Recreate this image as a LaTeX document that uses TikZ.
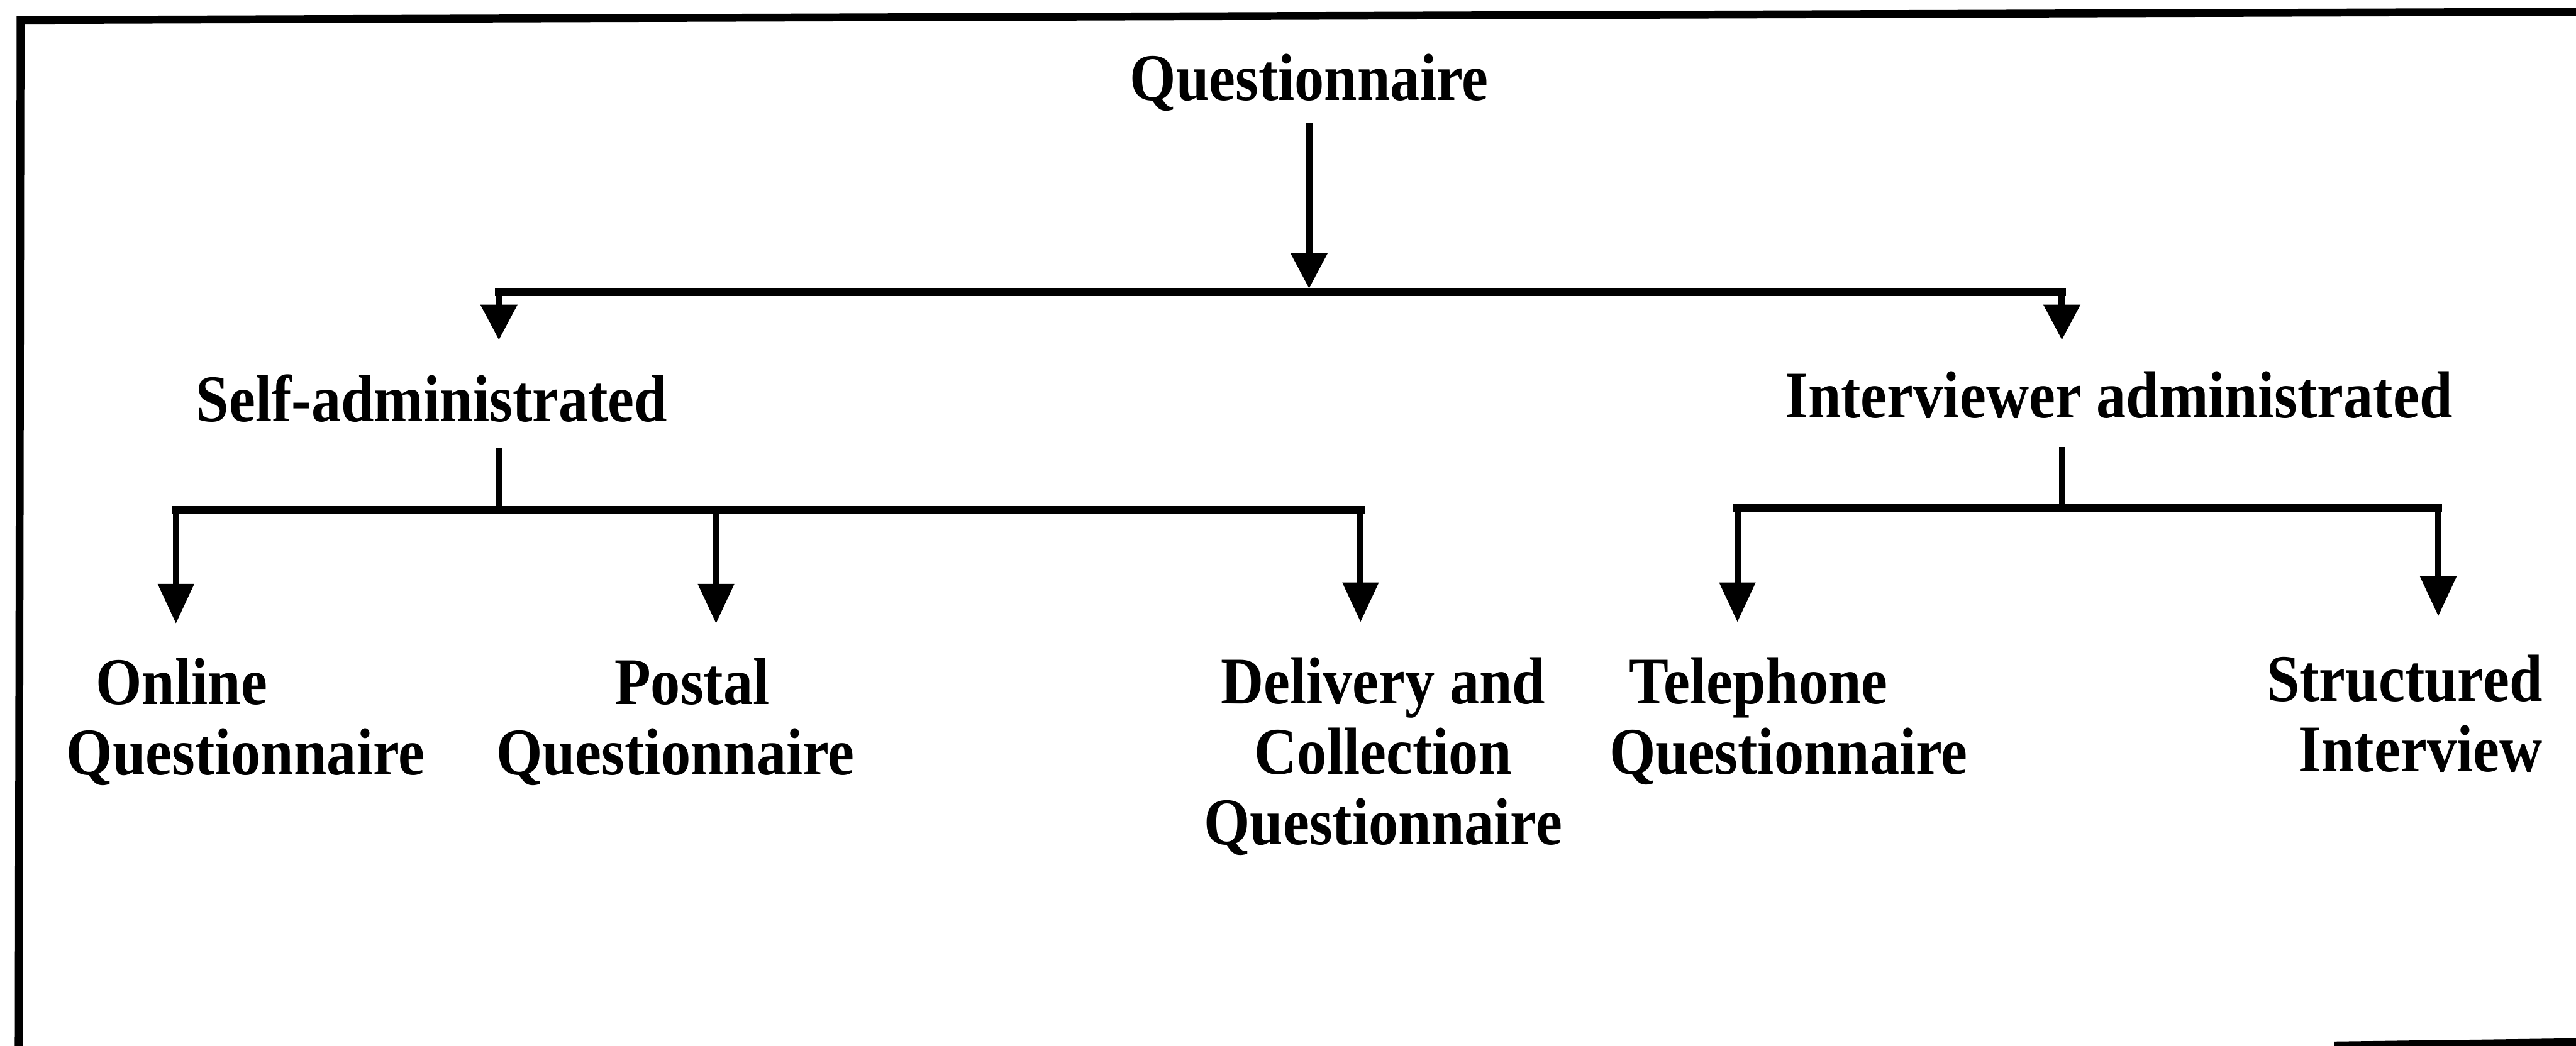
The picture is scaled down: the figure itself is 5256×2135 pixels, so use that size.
\documentclass[tikz,border=0pt]{standalone}
\usepackage{fontspec}
\setmainfont{Liberation Serif}[FakeStretch=0.89]
\usetikzlibrary{arrows.meta}
\setlength{\tabcolsep}{0pt}
\tikzset{
  lbl/.style={font=\bfseries\fontsize{38.7pt}{40.9pt}\selectfont, inner sep=0pt},
  bar/.style={line width=1.6mm, line cap=rect},
  stub/.style={line width=1.3mm},
  arr/.style={line width=1.3mm, -{Triangle[width=7.2mm,length=7.2mm]}},
  arrlong/.style={line width=1.3mm, -{Triangle[width=7.1mm,length=8.1mm]}},
  frame/.style={line width=1.6mm}
}
\begin{document}
\begin{tikzpicture}[x=0.1mm, y=-0.1mm]
\useasboundingbox (0,0) rectangle (5256,2135);
% frame (cropped scan border)
\draw[frame] (42,41) -- (5300,24);
\draw[frame] (42,33) -- (38,2200);
\draw[frame] (4763,2134) -- (5300,2127);

% labels
\node[lbl, anchor=base] (q) at (2671,205) {Questionnaire};
\node[lbl, anchor=base] (self) at (881,860) {Self-administrated};
\node[lbl, anchor=base] (inter) at (4323,853) {Interviewer administrated};
\node[lbl, anchor=base west] (online) at (135,1438) {\begin{tabular}[t]{l}\hspace*{6mm}Online\\Questionnaire\end{tabular}};
\node[lbl, anchor=base] (postal) at (1378,1438) {\begin{tabular}[t]{c}\hspace*{6.8mm}Postal\\Questionnaire\end{tabular}};
\node[lbl, anchor=base] (deliv) at (2822,1436) {\begin{tabular}[t]{c}Delivery and\\Collection\\Questionnaire\end{tabular}};
\node[lbl, anchor=base west] (tel) at (3283,1436) {\begin{tabular}[t]{l}\hspace*{4.1mm}Telephone\\Questionnaire\end{tabular}};
\node[lbl, anchor=base east] (struct) at (5188,1432) {\begin{tabular}[t]{r}Structured\\Interview\end{tabular}};

% junction coordinates
\coordinate (qout) at (2671,252);
\coordinate (qin) at (2671,589);
\coordinate (b1l) at (1018,596);
\coordinate (b1r) at (4207,596);
\coordinate (selfin) at (1018,694);
\coordinate (interin) at (4207,694);
\coordinate (selfout) at (1019,915);
\coordinate (b2l) at (359,1041);
\coordinate (b2r) at (2776,1041);
\coordinate (b2m) at (1019,1041);
\coordinate (interout) at (4208,913);
\coordinate (b3l) at (3545,1036);
\coordinate (b3r) at (4975,1036);
\coordinate (b3m) at (4208,1036);
\coordinate (onlinein) at (359,1273);
\coordinate (postalin) at (1461,1273);
\coordinate (b2p) at (1461,1041);
\coordinate (delivin) at (2776,1270);
\coordinate (telin) at (3545,1270);
\coordinate (structin) at (4975,1258);

% top level
\draw[arr] (qout) -- (qin);
\draw[bar] (b1l) -- (b1r);
\draw[arr] (b1l) -- (selfin);
\draw[arr] (b1r) -- (interin);

% self-administrated branch
\draw[stub] (selfout) -- (b2m);
\draw[bar] (b2l) -- (b2r);
\draw[arrlong] (b2l) -- (onlinein);
\draw[arrlong] (b2p) -- (postalin);
\draw[arrlong] (b2r) -- (delivin);

% interviewer branch
\draw[stub] (interout) -- (b3m);
\draw[bar] (b3l) -- (b3r);
\draw[arrlong] (b3l) -- (telin);
\draw[arrlong] (b3r) -- (structin);
\end{tikzpicture}
\end{document}
